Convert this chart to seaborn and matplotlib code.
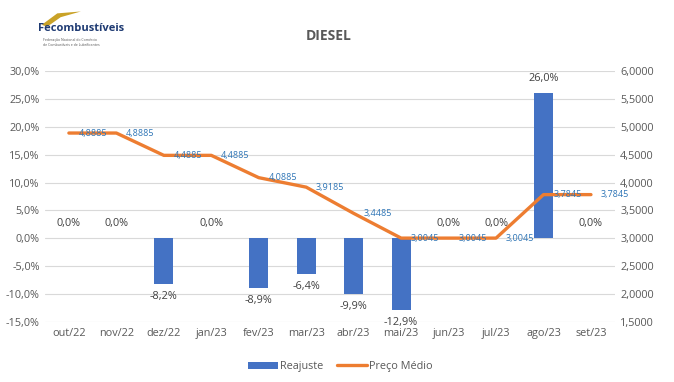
import matplotlib.pyplot as plt
import matplotlib.ticker as mticker
from matplotlib.patches import Patch, Polygon
from matplotlib.lines import Line2D
import seaborn as sns
import numpy as np
import pandas as pd

months = ["out/22", "nov/22", "dez/22", "jan/23", "fev/23", "mar/23",
          "abr/23", "mai/23", "jun/23", "jul/23", "ago/23", "set/23"]
reajuste = [0.0, 0.0, -8.2, 0.0, -8.9, -6.4, -9.9, -12.9, 0.0, 0.0, 26.0, 0.0]
preco = [4.8885, 4.8885, 4.4885, 4.4885, 4.0885, 3.9185,
         3.4485, 3.0045, 3.0045, 3.0045, 3.7845, 3.7845]

BLUE = "#4472C4"
ORANGE = "#ED7D31"
GREY = "#595959"

sns.set_style("white")
plt.rcParams["font.family"] = ["Open Sans", "DejaVu Sans"]

df = pd.DataFrame({"mes": months, "reajuste": reajuste, "preco": preco})

fig = plt.figure(figsize=(6.74, 3.82), dpi=100)
ax = fig.add_axes([0.067, 0.157, 0.845, 0.657])

sns.barplot(data=df, x="mes", y="reajuste", color=BLUE, saturation=1,
            width=0.4, linewidth=0, edgecolor="none", ax=ax)
ax.set_xlim(-0.5, 11.5)
ax.set_ylim(-15, 30)
ax.set_yticks(np.arange(-15, 31, 5))
ax.yaxis.set_major_formatter(mticker.FuncFormatter(
    lambda v, p: f"{v:.1f}%".replace(".", ",")))
ax.grid(axis="y", color="#D9D9D9", linewidth=0.8)
ax.set_axisbelow(True)
ax.set_xlabel("")
ax.set_ylabel("")
for s in ax.spines.values():
    s.set_visible(False)
ax.tick_params(axis="both", length=0, labelsize=7.8, colors=GREY, pad=4)

for i, v in enumerate(reajuste):
    lbl = f"{v:.1f}%".replace(".", ",")
    if v >= 0:
        ax.annotate(lbl, (i, v), xytext=(0, 7), textcoords="offset points",
                    ha="center", va="bottom", fontsize=7.8, color="#404040")
    else:
        ax.annotate(lbl, (i, v), xytext=(0, -5), textcoords="offset points",
                    ha="center", va="top", fontsize=7.8, color="#404040")

ax2 = ax.twinx()
sns.lineplot(x=np.arange(len(months)), y=preco, color=ORANGE, linewidth=2.4,
             ax=ax2)
ax2.set_ylim(1.5, 6.0)
ax2.set_yticks(np.arange(1.5, 6.01, 0.5))
ax2.yaxis.set_major_formatter(mticker.FuncFormatter(
    lambda v, p: f"{v:.4f}".replace(".", ",")))
for s in ax2.spines.values():
    s.set_visible(False)
ax2.tick_params(axis="y", length=0, labelsize=7.8, colors=GREY, pad=4)

for i, v in enumerate(preco):
    ax2.annotate(f"{v:.4f}".replace(".", ","), (i, v), xytext=(7, 0),
                 textcoords="offset points", ha="left", va="center",
                 fontsize=6.5, color="#2E75B6")

fig.text(0.487, 0.905, "DIESEL", ha="center", va="center", fontsize=10,
         fontweight="bold", color=GREY)

# logo
fig.patches.append(Polygon([[0.062, 0.935], [0.085, 0.965], [0.12, 0.97],
                            [0.09, 0.955], [0.07, 0.93]], closed=True,
                           transform=fig.transFigure, facecolor="#C9A227",
                           edgecolor="none"))
fig.text(0.057, 0.925, "Fecombustíveis", ha="left", va="center", fontsize=8,
         fontweight="bold", color="#1F3B73")
fig.text(0.064, 0.895, "Federação Nacional do Comércio", ha="left", va="center",
         fontsize=2.5, color="#555555")
fig.text(0.064, 0.882, "de Combustíveis e de Lubrificantes", ha="left",
         va="center", fontsize=2.5, color="#555555")

handles = [Patch(facecolor=BLUE, edgecolor="none"),
           Line2D([0], [0], color=ORANGE, linewidth=2.4)]
fig.legend(handles, ["Reajuste", "Preço Médio"], loc="center",
           bbox_to_anchor=(0.505, 0.04), ncol=2, frameon=False, fontsize=7.8,
           labelcolor=GREY, handlelength=2.8, handletextpad=0.2,
           columnspacing=1.2)

fig.savefig("out.png", dpi=100)
